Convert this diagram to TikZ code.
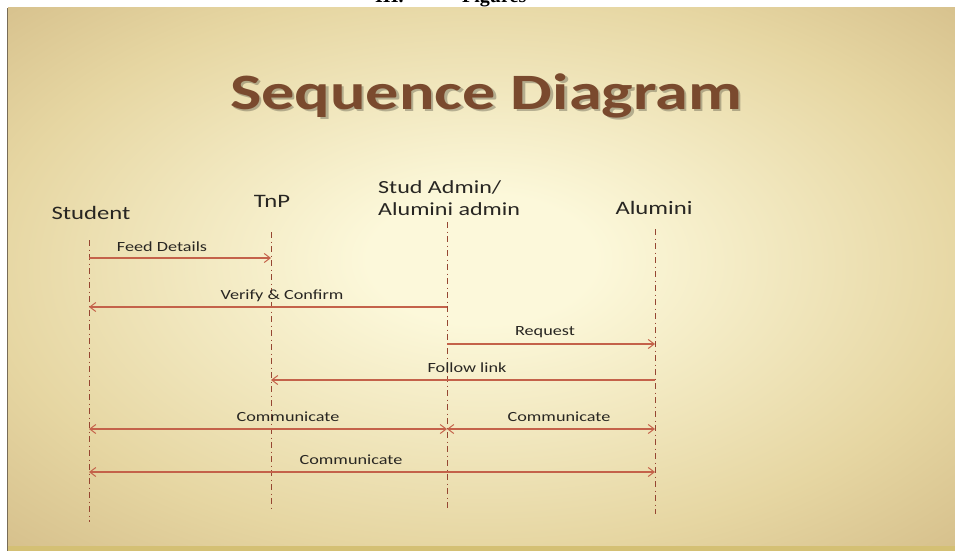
\documentclass[tikz,border=0pt]{standalone}
\usepackage{fontspec}
\setmainfont{Carlito}[FakeStretch=1.3]
\newfontfamily\headfont{Liberation Serif}
\usetikzlibrary{arrows.meta}
\definecolor{bgc}{RGB}{252,248,218}
\definecolor{bgm}{RGB}{230,214,162}
\definecolor{bge}{RGB}{198,170,118}
\definecolor{bandc}{RGB}{212,192,116}
\definecolor{edgec}{RGB}{120,108,86}
\definecolor{titlec}{RGB}{122,74,46}
\definecolor{lifec}{RGB}{150,70,50}
\definecolor{msgc}{RGB}{196,98,74}
\definecolor{txtc}{RGB}{40,38,34}
\pgfdeclareradialshading{slidebg}{\pgfpoint{0bp}{2bp}}{color(0bp)=(bgc); color(6bp)=(bgc); color(26bp)=(bgm); color(46bp)=(bge); color(50bp)=(bge)}
\tikzset{
  lifeline/.style={draw=lifec, line width=0.9pt, dash pattern=on 6pt off 3.5pt on 1pt off 3.5pt},
  msg/.style={draw=msgc, line width=1.1pt},
  tip/.style={-{Straight Barb[length=6pt,width=9pt,line width=1pt]}},
  bitip/.style={{Straight Barb[length=6pt,width=9pt,line width=1pt]}-{Straight Barb[length=6pt,width=9pt,line width=1pt]}},
  head/.style={font=\fontsize{19}{23}\selectfont, text=txtc, inner sep=0pt},
  lbl/.style={font=\fontsize{14}{16}\selectfont, text=txtc, inner sep=0pt}
}
\begin{document}
\begin{tikzpicture}[x=1pt,y=-1pt]
\useasboundingbox (0,0) rectangle (955,551);
\fill[white] (0,0) rectangle (955,551);
\shade[shading=slidebg] (8,8) rectangle (955,548);
\fill[bandc] (8,546) rectangle (955,551);
\draw[edgec, line width=1pt] (7.5,8) -- (7.5,551);
% clipped section heading
\begin{scope}
\clip (0,0) rectangle (955,8);
\node[font=\headfont\bfseries\fontsize{20}{24}\selectfont, anchor=base west, inner sep=0pt] (hnum) at (375,3) {III.};
\node[font=\headfont\bfseries\fontsize{20}{24}\selectfont, anchor=base west, inner sep=0pt] (hfig) at (462,3) {Figures};
\end{scope}
% title
\node[anchor=base, inner sep=0pt, font=\bfseries\fontsize{51}{60}\selectfont, text=black, opacity=0.25] (titleshadow) at (488.5,111.5) {Sequence Diagram};
\node[anchor=base, inner sep=0pt, font=\bfseries\fontsize{51}{60}\selectfont, text=titlec] (title) at (486,109) {Sequence Diagram};
% lifeline heads
\node[head] (student) at (91,213) {Student};
\node[head] (tnp) at (272,201) {TnP};
\node[head, align=left, anchor=west, font=\fontsize{18.5}{22}\selectfont] (admin) at (378,198) {Stud Admin/\\Alumini admin};
\node[head] (alumini) at (654,208) {Alumini};
% lifelines
\coordinate (stuT) at (89,240);  \coordinate (stuB) at (89,522);
\coordinate (tnpT) at (271,232); \coordinate (tnpB) at (271,508);
\coordinate (admT) at (447,222); \coordinate (admB) at (447,508);
\coordinate (aluT) at (655,229); \coordinate (aluB) at (655,514);
\draw[lifeline] (stuT) -- (stuB);
\draw[lifeline] (tnpT) -- (tnpB);
\draw[lifeline] (admT) -- (admB);
\draw[lifeline] (aluT) -- (aluB);
% message end points
\coordinate (m1s) at (89,258);  \coordinate (m1e) at (271,258);
\coordinate (m2s) at (447,307); \coordinate (m2e) at (89,307);
\coordinate (m3s) at (447,344); \coordinate (m3e) at (655,344);
\coordinate (m4s) at (655,380); \coordinate (m4e) at (271,380);
\coordinate (m5s) at (89,429);  \coordinate (m5e) at (447,429);
\coordinate (m6s) at (447,429); \coordinate (m6e) at (655,429);
\coordinate (m7s) at (89,472);  \coordinate (m7e) at (655,472);
% messages
\draw[msg, tip] (m1s) -- (m1e);
\draw[msg, tip] (m2s) -- (m2e);
\draw[msg, tip] (m3s) -- (m3e);
\draw[msg, tip] (m4s) -- (m4e);
\draw[msg, bitip] (m5s) -- (m5e);
\draw[msg, bitip] (m6s) -- (m6e);
\draw[msg, bitip] (m7s) -- (m7e);
% labels
\node[lbl] (l1) at (162,247) {Feed Details};
\node[lbl] (l2) at (282,296) {Verify \& Confirm};
\node[lbl] (l3) at (545,332) {Request};
\node[lbl] (l4) at (467,368) {Follow link};
\node[lbl] (l5) at (288,417) {Communicate};
\node[lbl] (l6) at (559,417) {Communicate};
\node[lbl] (l7) at (351,460) {Communicate};
\end{tikzpicture}
\end{document}
